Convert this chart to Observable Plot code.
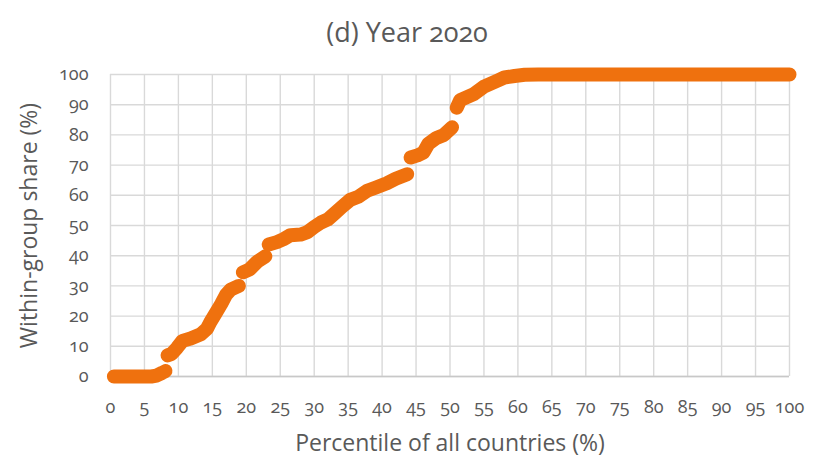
<!DOCTYPE html>
<html>
<head>
<meta charset="utf-8">
<script src="https://cdn.jsdelivr.net/npm/d3@7"></script>
<script src="https://cdn.jsdelivr.net/npm/@observablehq/plot@0.6"></script>
<style>
  html, body { margin: 0; padding: 0; background: #fff; }
  svg { font-family: "Open Sans", "Noto Sans", sans-serif; }
</style>
</head>
<body>
<div id="chart"></div>
<script>
const title = "(d) Year 2020";
const xLabel = "Percentile of all countries (%)";
const yLabel = "Within-group share (%)";
const xTicks = d3.range(0, 101, 5);
const yTicks = d3.range(0, 101, 10);

// Contiguous runs of the scatter (the markers overlap into a thick band)
const runA = [[0.5,0],[2,0],[4,0],[6,0],[6.8,0.3],[7.6,1.2],[8.1,1.8]];
const runB = [[8.4,7],[9,7.5],[9.8,9.5],[10.6,11.8],[11.8,12.6],[13.3,14],[14.2,15.8],[14.7,18],[15.5,21],[16.3,24],[17,27],[17.7,28.8],[18.9,30]];
const runC = [[19.5,34.5],[20.5,35.5],[21.6,38],[22.8,39.8]];
const runD = [[23.3,43.7],[24.5,44.5],[25.5,45.5],[26.5,46.8],[28,47],[29,47.8],[30,49.5],[31,51],[32,52],[33,54],[34,56],[35.3,58.5],[36.5,59.5],[37.8,61.5],[39,62.5],[40.7,64],[42,65.5],[43.7,67]];
const runE = [[44.2,72.5],[45.2,73.2],[46.1,74.2],[46.8,77],[48,79],[49.1,80],[50.3,82.5]];
const runF = [[51,89],[51.5,91.5],[52.5,92.5],[53.5,93.5],[55,96],[56,97],[57,98],[58,99],[59.5,99.5],[61,99.9],[63,100],[70,100],[80,100],[90,100],[100,100]];

const runs = {A: runA, B: runB, C: runC, D: runD, E: runE, F: runF};
const data = Object.entries(runs).flatMap(([k, pts]) => pts.map(([x, y]) => ({x, y, run: k})));

const orange = "#ef710e";
const grey = "#595959";

const chart = Plot.plot({
  width: 822,
  height: 464,
  marginLeft: 110,
  marginRight: 33,
  marginTop: 74,
  marginBottom: 88,
  style: {fontSize: "18px", color: grey, background: "#fff"},
  x: {domain: [0, 100], label: xLabel},
  y: {domain: [0, 100], label: yLabel},
  marks: [
    Plot.gridX(xTicks, {stroke: "#d9d9d9", strokeOpacity: 1, strokeWidth: 1.4}),
    Plot.gridY(yTicks, {stroke: "#d9d9d9", strokeOpacity: 1, strokeWidth: 1.4}),
    Plot.ruleY([0], {stroke: "#c8c8c8", strokeWidth: 1.6}),
    Plot.axisX(xTicks, {tickSize: 0, tickPadding: 24, label: xLabel, labelAnchor: "center", labelOffset: 74, labelArrow: "none"}),
    Plot.axisY(yTicks, {tickSize: 0, tickPadding: 22, label: yLabel, labelAnchor: "center", labelOffset: 90, labelArrow: "none"}),
    Plot.line(data, {x: "x", y: "y", z: "run", stroke: orange, strokeWidth: 14, strokeLinecap: "round", strokeLinejoin: "round"}),
    Plot.text([title], {frameAnchor: "top", dy: -52, dx: -43, fontSize: 27, fill: grey})
  ]
});

d3.select(chart).selectAll("[font-variant]").attr("font-variant", null);
d3.select(chart).selectAll("g, text")
  .style("font-variant-numeric", "oldstyle-nums")
  .style("font-feature-settings", "\"onum\" 1");
d3.select(chart).selectAll("[aria-label='x-axis label'] text, [aria-label='y-axis label'] text").style("font-size", "23px");
document.getElementById("chart").appendChild(chart);
</script>
</body>
</html>
